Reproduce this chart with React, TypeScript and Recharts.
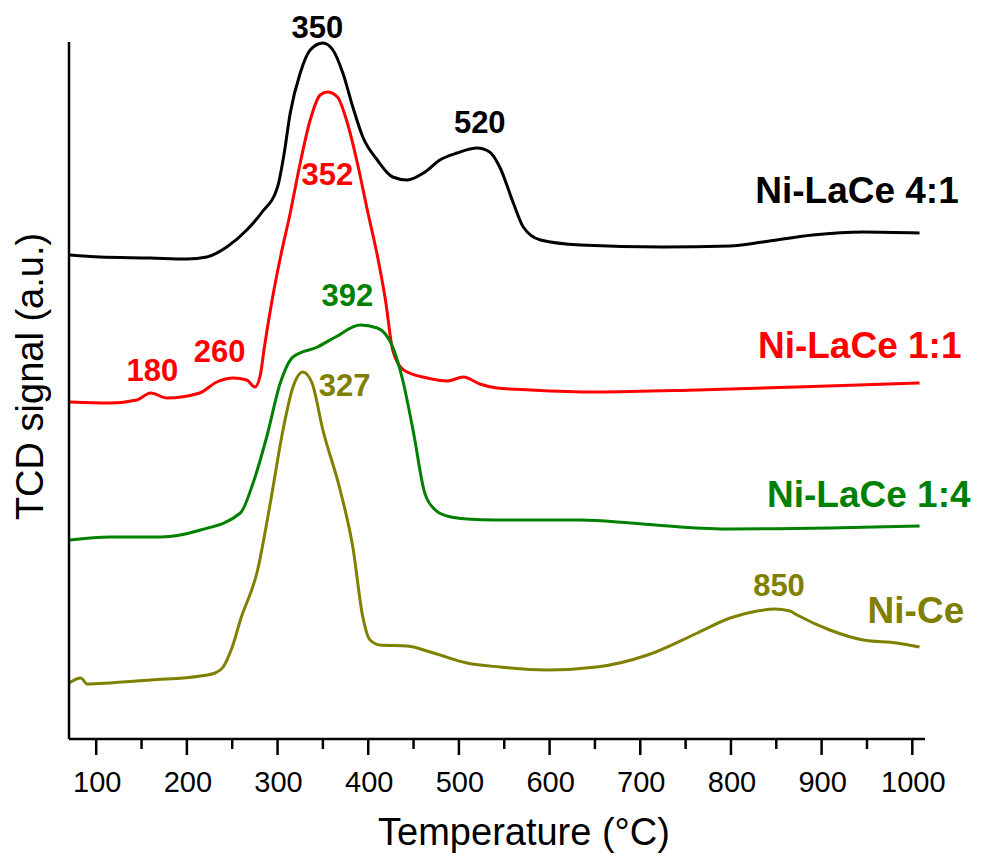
import React from 'react';
import { LineChart, Line, XAxis, YAxis, ReferenceDot, Label } from 'recharts';

// temperature (°C) / signal (a.u.)
const T_41 = [71, 104, 160, 200, 222, 244, 266, 283, 300, 307, 314, 325, 336, 350, 361, 372, 383, 394, 410, 427, 443, 461, 479, 498, 520, 534, 545, 560, 571, 590, 634, 725, 799, 835, 890, 946, 1008];
const S_41 = [484, 482, 481, 480, 482, 492, 509, 527, 552, 584, 626, 666, 689, 696, 689, 666, 632, 602, 579, 562, 559, 566, 579, 586, 591, 587, 572, 536, 512, 499, 494, 492, 493, 497, 504, 507, 506];

const T_11 = [71, 115, 145, 160, 178, 214, 233, 251, 266, 275, 281, 285, 294, 303, 314, 325, 336, 347, 355, 366, 377, 388, 399, 411, 419, 427, 439, 465, 487, 505, 523, 542, 579, 652, 763, 873, 1008];
const S_11 = [337, 336, 339, 346, 341, 346, 357, 361, 359, 352, 364, 389, 439, 481, 526, 576, 619, 644, 647, 642, 616, 576, 529, 479, 439, 389, 369, 361, 358, 362, 355, 351, 349, 347, 349, 352, 356];

const T_14 = [71, 115, 171, 215, 259, 273, 288, 303, 317, 344, 364, 391, 410, 427, 438, 450, 462, 474, 487, 509, 540, 578, 634, 689, 744, 799, 909, 1008];
const S_14 = [199, 202, 202, 209, 226, 256, 302, 356, 382, 392, 402, 414, 411, 392, 359, 306, 247, 229, 223, 220, 219, 219, 219, 216, 212, 210, 211, 213];

const T_CE = [70, 83, 90, 115, 160, 215, 231, 240, 250, 259, 278, 292, 306, 317, 328, 338, 350, 369, 383, 394, 402, 413, 443, 472, 509, 545, 597, 652, 708, 763, 799, 829, 848, 865, 873, 909, 946, 983, 1008];
const S_CE = [56, 61, 55, 56, 59, 63, 66, 72, 92, 119, 169, 236, 309, 352, 367, 356, 309, 249, 192, 122, 99, 94, 93, 86, 76, 72, 69, 72, 84, 106, 121, 128, 130, 128, 124, 109, 99, 96, 92];

const MAJOR_TICKS = [100, 200, 300, 400, 500, 600, 700, 800, 900, 1000];
const MINOR_TICKS = [150, 250, 350, 450, 550, 650, 750, 850, 950];

// text annotations: [temperature, signal, text, colour]
const PEAK_LABELS: [number, number, string, string][] = [
  [344, 712, '350', '#000000'],
  [523, 617, '520', '#000000'],
  [355, 565, '352', '#ff0000'],
  [162, 369, '180', '#ff0000'],
  [236, 388, '260', '#ff0000'],
  [377, 444, '392', '#008000'],
  [374, 354, '327', '#808000'],
  [853, 154, '850', '#808000'],
];
const NAME_LABELS: [number, number, string, string][] = [
  [939, 549, 'Ni-LaCe 4:1', '#000000'],
  [942, 394, 'Ni-LaCe 1:1', '#ff0000'],
  [952, 245, 'Ni-LaCe 1:4', '#008000'],
  [1004, 129, 'Ni-Ce', '#808000'],
];

const FONT = '"Liberation Sans", Arial, sans-serif';

const zip = (t: number[], s: number[]) => t.map((x, i) => ({ t: x, s: s[i] }));

const series = [
  { name: 'Ni-LaCe 4:1', data: zip(T_41, S_41), color: '#000000' },
  { name: 'Ni-LaCe 1:1', data: zip(T_11, S_11), color: '#ff0000' },
  { name: 'Ni-LaCe 1:4', data: zip(T_14, S_14), color: '#008000' },
  { name: 'Ni-Ce', data: zip(T_CE, S_CE), color: '#808000' },
];

const TempTick = (props: any) => {
  const { x, y, payload } = props;
  const major = MAJOR_TICKS.includes(payload.value);
  return (
    <g>
      <line x1={x} x2={x} y1={y} y2={y + (major ? 16 : 10)} stroke="#000" strokeWidth={2.5} />
      {major && (
        <text x={x + 1} y={y + 53} textAnchor="middle" fontSize={29} fontFamily={FONT} fill="#000">
          {payload.value}
        </text>
      )}
    </g>
  );
};

const textAt = (text: string, color: string, size: number) => (p: any) => (
  <text
    x={p.viewBox.x}
    y={p.viewBox.y}
    textAnchor="middle"
    dominantBaseline="central"
    fontSize={size}
    fontWeight="bold"
    fontFamily={FONT}
    fill={color}
  >
    {text}
  </text>
);

export default function App() {
  return (
    <div style={{ position: 'absolute', left: 0, top: 0, background: '#fff' }}>
      <LineChart width={987} height={863} margin={{ top: 42, right: 62, bottom: 0, left: 0 }}>
        <XAxis
          type="number"
          dataKey="t"
          domain={[70, 1014]}
          ticks={[...MAJOR_TICKS, ...MINOR_TICKS].sort((a, b) => a - b)}
          interval={0}
          height={124}
          tickSize={0}
          tickMargin={0}
          tickLine={false}
          tick={<TempTick />}
          axisLine={{ stroke: '#000', strokeWidth: 2.5 }}
        >
          <Label
            content={(p: any) => (
              <text
                x={p.viewBox.x + p.viewBox.width / 2 + 27}
                y={p.viewBox.y + 106}
                textAnchor="middle"
                fontSize={38}
                fontFamily={FONT}
                fill="#000"
              >
                Temperature (°C)
              </text>
            )}
          />
        </XAxis>
        <YAxis
          type="number"
          domain={[0, 697]}
          width={69}
          tick={false}
          tickLine={false}
          axisLine={{ stroke: '#000', strokeWidth: 2.5 }}
        >
          <Label
            content={(p: any) => {
              const cx = 43;
              const cy = p.viewBox.y + p.viewBox.height / 2 - 14;
              return (
                <text
                  x={cx}
                  y={cy}
                  transform={`rotate(-90, ${cx}, ${cy})`}
                  textAnchor="middle"
                  fontSize={38}
                  fontFamily={FONT}
                  fill="#000"
                >
                  TCD signal (a.u.)
                </text>
              );
            }}
          />
        </YAxis>
        {series.map((s) => (
          <Line
            key={s.name}
            data={s.data}
            dataKey="s"
            name={s.name}
            type="monotone"
            stroke={s.color}
            strokeWidth={3}
            dot={false}
            activeDot={false}
            isAnimationActive={false}
          />
        ))}
        {PEAK_LABELS.map(([t, v, text, color]) => (
          <ReferenceDot key={'p' + text} x={t} y={v} r={0} ifOverflow="visible" label={textAt(text, color, 31)} />
        ))}
        {NAME_LABELS.map(([t, v, text, color]) => (
          <ReferenceDot key={'n' + text} x={t} y={v} r={0} ifOverflow="visible" label={textAt(text, color, 37)} />
        ))}
      </LineChart>
    </div>
  );
}
